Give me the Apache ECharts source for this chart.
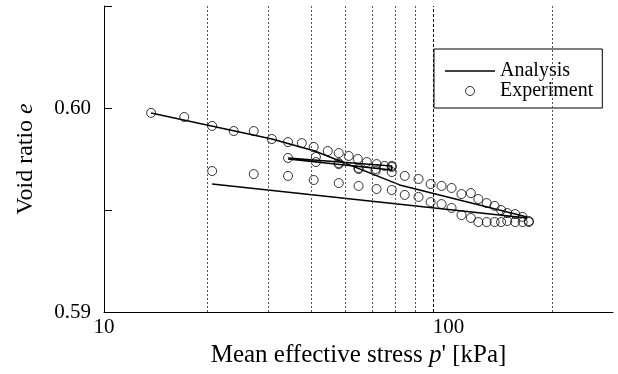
<!DOCTYPE html>
<html>
<head>
<meta charset="utf-8">
<script src="https://cdn.jsdelivr.net/npm/echarts@6/dist/echarts.min.js"></script>
<style>
html,body{margin:0;padding:0;background:#fff;}
#main{width:618px;height:374px;}
</style>
</head>
<body>
<div id="main"></div>
<script>
// experiment points [p', e]
var expLoad = [
    [13.7,0.59976],[17.1,0.59956],[20.6,0.59912],[23.8,0.59887],[27.2,0.59887],[30.7,0.59848],
    [34.2,0.59833],[37.5,0.59828],[40.6,0.59809],[44.6,0.59789],[48.0,0.59779],[51.3,0.59765],
    [54.5,0.59750],[57.9,0.59735],[61.8,0.59725],[65.2,0.59716],[68.4,0.59711],[74.6,0.59667],
    [81.8,0.59652],[88.7,0.59627],[95.4,0.59618],[102,0.59608],[109,0.59578],[116,0.59583],
    [122,0.59554],[129,0.59534],[136,0.59520],[142,0.59500],[148,0.59485],[156,0.59480],
    [164,0.59466],[171,0.59446]
];
var expReload = [
    [34.2,0.59755],[41.2,0.59760],[48.0,0.59730],[54.8,0.59706],[61.4,0.59701],[68.4,0.59716],
    [68.4,0.59686],[61.4,0.59691],[54.8,0.59701],[48.0,0.59725],[41.2,0.59735]
];
var expUnload = [
    [171,0.59441],[164,0.59441],[156,0.59441],[148,0.59446],[142,0.59441],[136,0.59441],
    [129,0.59441],[122,0.59441],[116,0.59461],[109,0.59475],[102,0.59510],[95.4,0.59529],
    [88.7,0.59539],[81.8,0.59564],[74.6,0.59574],[68.4,0.59598],[61.8,0.59603],[54.8,0.59618],
    [48.0,0.59632],[40.6,0.59647],[34.2,0.59667],[27.2,0.59676],[20.6,0.59691]
];
// analysis curves
var anaLoad = [[13.7,0.59976],[30.7,0.59848],[40.9,0.59789],[72.1,0.59623],[169,0.59466]];
var anaReload = [[34.2,0.59755],[68.4,0.59716],[68.4,0.59696],[34.2,0.59750]];
var anaUnload = [[169,0.59461],[20.6,0.59627]];
// dotted guide lines
var guideX = [20,30,40,50,60,70,80,90,200];

var FONT = 'Liberation Serif';
var myChart = echarts.init(document.getElementById('main'));

var guideData = [];
for (var i = 0; i < guideX.length; i++) {
    var item = {xAxis: guideX[i]};
    if (guideX[i] == 90) {
        item.lineStyle = {color: '#000', type: [3, 2], width: 1};
    }
    guideData.push(item);
}

var lineStyle = {color: '#000', width: 1.5};
var dotStyle = {color: 'rgba(0,0,0,0)', borderColor: '#000', borderWidth: 1};

myChart.setOption({
    animation: false,
    grid: {left: 104, right: 5, top: 6, bottom: 62},
    legend: {
        left: 434,
        top: 49,
        orient: 'vertical',
        data: [
            {name: 'Analysis', icon: 'path://M0,0h50v1.4h-50z'},
            {name: 'Experiment', itemStyle: {color: 'rgba(0,0,0,0)', borderColor: '#000', borderWidth: 1}}
        ],
        itemWidth: 50,
        itemHeight: 9,
        itemGap: 0,
        padding: [12, 9, 7, 11],
        borderColor: '#000',
        borderWidth: 1,
        borderRadius: 0,
        backgroundColor: '#fff',
        textStyle: {fontFamily: FONT, fontSize: 20, color: '#000'}
    },
    xAxis: {
        type: 'log',
        logBase: 10,
        min: 10,
        max: 300,
        name: '{n|Mean effective stress }{i|p}{n|\' [kPa]}',
        nameLocation: 'middle',
        nameGap: 26,
        nameTextStyle: {
            rich: {
                n: {fontFamily: FONT, fontSize: 25, color: '#000'},
                i: {fontFamily: FONT, fontSize: 25, color: '#000', fontStyle: 'italic'}
            }
        },
        axisLine: {lineStyle: {color: '#000', width: 1}},
        axisTick: {show: false},
        splitLine: {show: false},
        axisLabel: {
            fontFamily: FONT, fontSize: 21, color: '#000', margin: 5,
            formatter: function (v) {
                var r = Math.round(v);
                return (r == 10 || r == 100) ? String(r) : '';
            }
        }
    },
    yAxis: {
        type: 'value',
        min: 0.59,
        max: 0.605,
        interval: 0.005,
        name: '{n|Void ratio }{i|e}',
        nameLocation: 'middle',
        nameGap: 66,
        nameTextStyle: {
            rich: {
                n: {fontFamily: FONT, fontSize: 24, color: '#000'},
                i: {fontFamily: FONT, fontSize: 24, color: '#000', fontStyle: 'italic'}
            }
        },
        axisLine: {show: true, lineStyle: {color: '#000', width: 1}},
        axisTick: {show: true, inside: true, length: 8, lineStyle: {color: '#000'}},
        splitLine: {show: false},
        axisLabel: {
            fontFamily: FONT, fontSize: 21, color: '#000', margin: 13,
            formatter: function (v) {
                if (Math.abs(v - 0.59) < 1e-6) return '0.59';
                if (Math.abs(v - 0.60) < 1e-6) return '0.60';
                return '';
            }
        }
    },
    series: [
        {
            name: 'Analysis', type: 'line', data: anaLoad, symbol: 'none',
            lineStyle: lineStyle, itemStyle: {color: '#000'},
            markLine: {
                silent: true,
                symbol: ['none', 'none'],
                label: {show: false},
                lineStyle: {color: '#555', type: [2, 2], width: 1},
                emphasis: {disabled: true},
                data: guideData
            }
        },
        {name: 'Analysis', type: 'line', data: anaReload, symbol: 'none', lineStyle: lineStyle, itemStyle: {color: '#000'}},
        {name: 'Analysis', type: 'line', data: anaUnload, symbol: 'none', lineStyle: lineStyle, itemStyle: {color: '#000'}},
        {name: 'Experiment', type: 'scatter', data: expLoad, symbol: 'circle', symbolSize: 9, itemStyle: dotStyle},
        {name: 'Experiment', type: 'scatter', data: expReload, symbol: 'circle', symbolSize: 9, itemStyle: dotStyle},
        {name: 'Experiment', type: 'scatter', data: expUnload, symbol: 'circle', symbolSize: 9, itemStyle: dotStyle}
    ]
});
</script>
</body>
</html>
